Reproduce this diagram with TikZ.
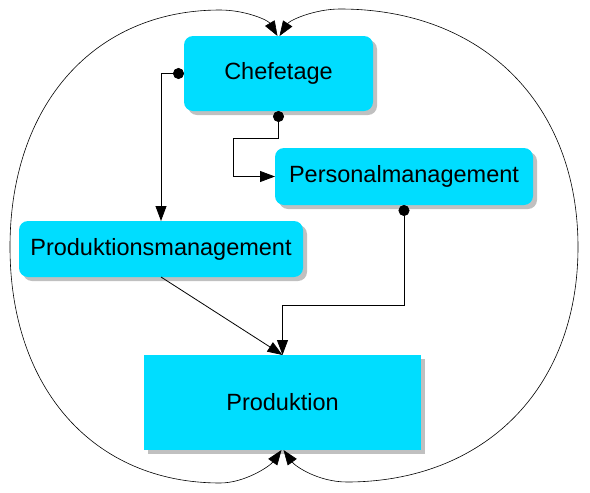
\documentclass[tikz,border=0pt]{standalone}
\usepackage{fontspec}
\setmainfont{Liberation Sans}
\usetikzlibrary{arrows.meta,shadows}
\definecolor{deptcyan}{RGB}{0,221,255}
\definecolor{shadowgray}{RGB}{192,192,192}

\begin{document}
\begin{tikzpicture}[x=1pt,y=-1pt,
  dept/.style={fill=deptcyan,inner sep=0pt,outer sep=0pt,
    font=\fontsize{23.5}{28}\selectfont,
    drop shadow={shadow xshift=4pt,shadow yshift=-4pt,fill=shadowgray,opacity=1}},
  deptr/.style={dept,rounded corners=9pt},
  link/.style={line width=0.8pt,-{Triangle[length=15pt,width=11pt]}},
  dotlink/.style={line width=0.8pt,{Circle[length=11pt]}-{Triangle[length=15pt,width=11pt]}},
  ring/.style={line width=0.6pt,{Triangle[length=15pt,width=11pt]}-{Triangle[length=15pt,width=11pt]}}]
\useasboundingbox (0,0) rectangle (590,493);

\node[deptr,minimum width=189pt,minimum height=75pt] (chef) at (278.5,73.5) {Chefetage};
\node[deptr,minimum width=258pt,minimum height=57pt] (pers) at (404,176.5) {Personalmanagement};
\node[deptr,minimum width=284pt,minimum height=56pt] (prodm) at (161,249) {Produktionsmanagement};
\node[dept,minimum width=277pt,minimum height=95pt] (prod) at (282.5,402.5) {Produktion};

\draw[dotlink] (chef.west) -| (prodm.north);
\draw[dotlink] (chef.south) -- ++(0,27) -| ([xshift=-42pt]pers.west) -- (pers.west);
\draw[dotlink] (pers.south) -- ++(0,100) -| (prod.north);
\draw[link] (prodm.south) -- (prod.north);

% outer ring
\draw[ring] ([xshift=-1pt]chef.north) .. controls (268,20) and (245,10) .. (220,10)
  .. controls (94,10) and (10,105) .. (10,247)
  .. controls (10,389) and (94,483) .. (220,483)
  .. controls (245,483) and (270,466) .. ([xshift=-1pt]prod.south);
\draw[ring] ([xshift=1pt]chef.north) .. controls (290,20) and (315,9) .. (340,9)
  .. controls (483,9) and (578,104) .. (578,247)
  .. controls (578,390) and (483,482) .. (347,482)
  .. controls (318,482) and (295,466) .. ([xshift=1pt]prod.south);
\end{tikzpicture}
\end{document}
